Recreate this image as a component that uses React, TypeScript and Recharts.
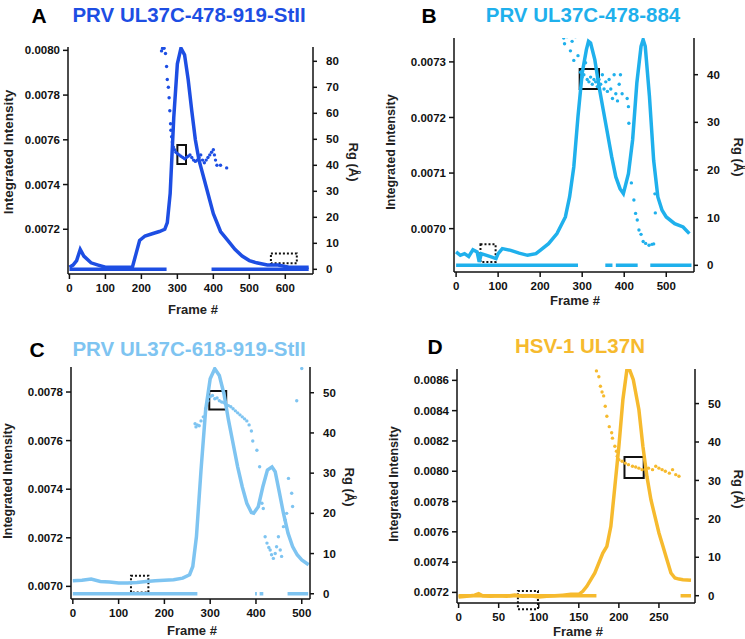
import React from "react";
import {
  ComposedChart,
  Line,
  Scatter,
  XAxis,
  YAxis,
  ReferenceArea,
} from "recharts";

// ---- panel A: PRV UL37C-478-919-StII
const A_FRAMES = [0, 10, 20, 30, 40, 60, 80, 100, 120, 150, 175, 185, 195, 210, 230, 250, 265, 272, 280, 290, 300, 310, 320, 330, 340, 350, 360, 375, 390, 400, 420, 440, 460, 480, 500, 520, 550, 580, 610, 640, 665];
const A_INTENSITY = [0.00703, 0.00704, 0.00706, 0.00711, 0.00708, 0.00705, 0.00704, 0.00703, 0.00703, 0.00703, 0.00703, 0.00709, 0.00715, 0.00717, 0.00718, 0.00719, 0.0072, 0.00723, 0.00736, 0.0077, 0.00794, 0.00801, 0.00798, 0.00787, 0.00773, 0.0076, 0.00751, 0.00742, 0.00733, 0.00727, 0.00719, 0.00715, 0.00711, 0.00708, 0.00706, 0.00705, 0.00704, 0.00704, 0.00703, 0.00703, 0.00703];
const A_RG_FRAMES = [256, 259, 263, 267, 270, 272, 275, 277, 279, 281, 282, 284, 286, 289, 292, 296, 300, 305, 310, 315, 320, 325, 330, 335, 340, 345, 350, 355, 360, 365, 370, 375, 380, 385, 390, 395, 400, 403, 406, 410, 420, 437];
const A_RG = [84, 85, 85, 83, 78, 73, 70, 66, 61, 56, 53.5, 51, 49, 47, 46, 45, 44.5, 44, 43.5, 43, 42.5, 43, 43.5, 44, 43, 42, 41.5, 42, 43, 44, 42, 41, 42, 43, 44, 45, 46, 44, 42, 40, 40, 39];
const A_ZERO_SPANS = [[0, 270], [395, 665]];
const A_X_TICKS = [0, 100, 200, 300, 400, 500, 600];
const A_L_TICKS = [0.0072, 0.0074, 0.0076, 0.0078, 0.008];
const A_R_TICKS = [0, 10, 20, 30, 40, 50, 60, 70, 80];

// ---- panel B: PRV UL37C-478-884
const B_FRAMES = [0, 10, 20, 30, 40, 50, 55, 60, 80, 95, 100, 110, 130, 150, 170, 190, 200, 220, 240, 260, 270, 280, 290, 300, 310, 315, 320, 330, 340, 350, 360, 370, 380, 390, 398, 410, 420, 430, 440, 445, 450, 460, 470, 480, 490, 500, 520, 540, 555];
const B_INTENSITY = [0.006958, 0.006952, 0.006955, 0.00695, 0.006962, 0.006958, 0.00694, 0.006955, 0.00695, 0.006946, 0.006955, 0.006964, 0.006961, 0.006956, 0.006952, 0.006955, 0.006961, 0.006973, 0.006991, 0.007021, 0.007057, 0.007111, 0.007202, 0.00728, 0.007322, 0.007337, 0.007334, 0.007304, 0.007256, 0.007214, 0.007172, 0.00713, 0.007093, 0.007072, 0.007063, 0.007099, 0.00716, 0.007262, 0.007328, 0.00734, 0.007328, 0.007238, 0.007123, 0.007057, 0.007033, 0.007021, 0.007009, 0.007003, 0.006991];
const B_RG_FRAMES = [256, 258, 264, 272, 276, 280, 284, 290, 296, 300, 304, 308, 312, 316, 320, 324, 328, 332, 336, 340, 344, 348, 352, 356, 360, 364, 368, 372, 376, 380, 384, 388, 391, 395, 407, 410, 411, 417, 423, 427, 431, 435, 440, 445, 451, 459, 466, 470, 473, 474];
const B_RG = [47.7, 46.5, 48, 45, 47, 43, 48, 44, 40.5, 39.5, 40, 42.5, 39, 38.5, 39.5, 38, 39, 38.5, 37.5, 39, 38, 40, 37, 38.5, 36.5, 39, 37, 35, 40, 36, 34.5, 38, 40, 36, 35, 33.3, 29.8, 17.3, 13.7, 10.9, 9.5, 7.4, 6.5, 5, 4.6, 4.2, 4.4, 4.5, 15, 11];
const B_ZERO_SPANS = [[0, 290], [355, 372], [380, 432], [462, 560]];
const B_X_TICKS = [0, 100, 200, 300, 400, 500];
const B_L_TICKS = [0.007, 0.0071, 0.0072, 0.0073];
const B_R_TICKS = [0, 10, 20, 30, 40];

// ---- panel C: PRV UL37C-618-919-StII
const C_FRAMES = [0, 20, 40, 60, 80, 100, 120, 140, 160, 180, 200, 220, 240, 255, 262, 270, 280, 290, 300, 310, 320, 330, 340, 350, 360, 370, 380, 390, 395, 405, 415, 425, 435, 442, 450, 460, 470, 480, 490, 500, 515];
const C_INTENSITY = [0.007023, 0.007025, 0.00703, 0.00702, 0.007018, 0.007014, 0.007014, 0.007016, 0.00702, 0.007023, 0.007025, 0.007027, 0.007034, 0.007048, 0.007082, 0.007205, 0.007479, 0.007725, 0.007855, 0.007896, 0.007868, 0.007793, 0.007684, 0.007588, 0.007492, 0.00741, 0.007342, 0.007304, 0.007301, 0.007328, 0.00741, 0.007479, 0.007492, 0.007472, 0.007397, 0.007301, 0.007219, 0.007164, 0.00713, 0.007109, 0.007089];
const C_RG_FRAMES = [267, 269, 272, 276, 280, 285, 290, 295, 300, 305, 310, 315, 320, 325, 330, 335, 340, 345, 350, 355, 360, 365, 370, 375, 380, 385, 390, 393, 402, 408, 413, 416, 420, 424, 428, 431, 434, 438, 442, 445, 449, 453, 456, 460, 464, 467, 471, 478, 480, 489, 500];
const C_RG = [42.3, 41.5, 42, 41.8, 43, 44, 46, 48, 49, 49.3, 48.5, 48.7, 48, 47.7, 47.5, 47, 46.8, 46.5, 46, 45.5, 45, 44.5, 44, 43.5, 43, 42, 40.5, 38, 35.7, 31.6, 22.5, 21.2, 14.2, 12.6, 11.5, 10.9, 9.7, 8.8, 10, 11.7, 14.2, 10.9, 9.3, 16.7, 18.3, 20, 28.7, 25, 21.7, 48, 56];
const C_ZERO_SPANS = [[0, 272], [398, 402], [408, 416], [469, 514]];
const C_X_TICKS = [0, 100, 200, 300, 400, 500];
const C_L_TICKS = [0.007, 0.0072, 0.0074, 0.0076, 0.0078];
const C_R_TICKS = [0, 10, 20, 30, 40, 50];

// ---- panel D: HSV-1 UL37N
const D_FRAMES = [0, 10, 20, 25, 30, 40, 50, 60, 70, 80, 90, 100, 110, 120, 130, 140, 150, 155, 160, 170, 180, 185, 190, 195, 200, 205, 210, 213, 218, 225, 230, 235, 240, 245, 250, 255, 260, 265, 270, 275, 280, 290];
const D_INTENSITY = [0.007169, 0.007174, 0.007182, 0.007191, 0.007178, 0.007174, 0.007178, 0.007174, 0.007182, 0.007174, 0.007178, 0.007169, 0.007174, 0.007178, 0.007182, 0.007187, 0.007187, 0.007207, 0.00724, 0.007328, 0.00746, 0.007504, 0.007636, 0.0079, 0.008164, 0.008472, 0.00867, 0.008675, 0.008604, 0.008406, 0.008164, 0.007966, 0.007812, 0.007702, 0.007592, 0.007504, 0.007416, 0.007328, 0.007295, 0.007288, 0.007284, 0.00728];
const D_RG_FRAMES = [172, 175, 177, 179, 181, 183, 185, 188, 191, 192, 195, 197, 198, 200, 204, 208, 212, 217, 221, 225, 229, 233, 237, 242, 246, 250, 254, 258, 263, 267, 271, 275];
const D_RG = [58.5, 57, 54.5, 53, 52, 49.3, 46.7, 44, 42.4, 41, 38.9, 37.6, 36.3, 35.4, 35, 34.5, 34.1, 33.7, 33.5, 33.2, 32.8, 33, 33.2, 32.8, 33.7, 33.2, 32.8, 32.4, 31.9, 32.8, 31.5, 31.1];
const D_ZERO_SPANS = [[0, 172], [277, 290]];
const D_X_TICKS = [0, 50, 100, 150, 200, 250];
const D_L_TICKS = [0.0072, 0.0074, 0.0076, 0.0078, 0.008, 0.0082, 0.0084, 0.0086];
const D_R_TICKS = [0, 10, 20, 30, 40, 50];

const FONT = '"Liberation Sans", Arial, Helvetica, sans-serif';
const tickStyle = { fontSize: 11.5, fontWeight: 700, fill: "#111", fontFamily: FONT };
const axisLine = { stroke: "#111", strokeWidth: 1.5 };

const zip = (fr: number[], vals: number[], key: string) =>
  fr.map((f, i) => ({ f, [key]: vals[i] }));

// Rg = 0 stretches (frames with no Guinier fit), null between to break the line
const spans = (s: number[][]) => {
  const out: any[] = [];
  s.forEach(([a, b], i) => {
    if (i > 0) out.push({ f: (s[i - 1][1] + a) / 2, rg: null });
    out.push({ f: a, rg: 0 });
    out.push({ f: b, rg: 0 });
  });
  return out;
};

type PanelProps = {
  left: number;
  top: number;
  width: number;
  height: number;
  plot: { l: number; r: number; t: number; b: number };
  color: string;
  frames: number[];
  intensity: number[];
  rgFrames: number[];
  rg: number[];
  zero: number[][];
  xDomain: [number, number];
  lDomain: [number, number];
  rDomain: [number, number];
  xTicks: number[];
  lTicks: number[];
  rTicks: number[];
  box: number[];
  dotBox: number[];
};

function Panel(p: PanelProps) {
  const line = zip(p.frames, p.intensity, "I");
  const pts = zip(p.rgFrames, p.rg, "rg");
  const dot = (props: any) => (
    <circle cx={props.cx} cy={props.cy} r={1.7} fill={p.color} />
  );
  return (
    <div style={{ position: "absolute", left: p.left, top: p.top }}>
      <ComposedChart
        width={p.width}
        height={p.height}
        margin={{ top: p.plot.t, right: 0, bottom: 0, left: 0 }}
      >
        <XAxis
          dataKey="f"
          type="number"
          domain={p.xDomain}
          ticks={p.xTicks}
          allowDataOverflow
          height={p.height - p.plot.b}
          tick={tickStyle}
          tickSize={5}
          tickMargin={5}
          axisLine={axisLine}
          tickLine={axisLine}
          interval={0}
        />
        <YAxis
          yAxisId="l"
          type="number"
          domain={p.lDomain}
          ticks={p.lTicks}
          allowDataOverflow
          width={p.plot.l}
          tick={tickStyle}
          tickSize={5}
          tickMargin={3}
          axisLine={axisLine}
          tickLine={axisLine}
          tickFormatter={(v: number) => v.toFixed(4)}
          interval={0}
        />
        <YAxis
          yAxisId="r"
          orientation="right"
          type="number"
          domain={p.rDomain}
          ticks={p.rTicks}
          allowDataOverflow
          width={p.width - p.plot.r}
          tick={tickStyle}
          tickSize={4}
          tickMargin={9}
          axisLine={axisLine}
          tickLine={axisLine}
          interval={0}
        />
        <Line
          yAxisId="r"
          data={spans(p.zero)}
          dataKey="rg"
          stroke={p.color}
          strokeWidth={3.5}
          dot={false}
          isAnimationActive={false}
        />
        <Line
          yAxisId="l"
          data={line}
          dataKey="I"
          type="linear"
          stroke={p.color}
          strokeWidth={3.5}
          dot={false}
          isAnimationActive={false}
        />
        <Scatter
          yAxisId="r"
          data={pts}
          dataKey="rg"
          fill={p.color}
          shape={dot}
          isAnimationActive={false}
        />
        <ReferenceArea
          yAxisId="r"
          x1={p.box[0]}
          x2={p.box[1]}
          y1={p.box[2]}
          y2={p.box[3]}
          stroke="#111"
          strokeWidth={2}
          fill="none"
          fillOpacity={0}
          ifOverflow="visible"
        />
        <ReferenceArea
          yAxisId="r"
          x1={p.dotBox[0]}
          x2={p.dotBox[1]}
          y1={p.dotBox[2]}
          y2={p.dotBox[3]}
          stroke="#111"
          strokeWidth={2}
          strokeDasharray="2 2"
          fill="none"
          fillOpacity={0}
          ifOverflow="visible"
        />
      </ComposedChart>
    </div>
  );
}

function Text(props: {
  x: number;
  y: number;
  size: number;
  color?: string;
  rot?: number;
  children: React.ReactNode;
}) {
  return (
    <div
      style={{
        position: "absolute",
        left: props.x,
        top: props.y,
        transform: `translate(-50%, -50%) rotate(${props.rot || 0}deg)`,
        fontSize: props.size,
        fontWeight: 700,
        color: props.color || "#222",
        whiteSpace: "nowrap",
        lineHeight: 1,
      }}
    >
      {props.children}
    </div>
  );
}

const BLUE = "#1d4ee3";
const SKY = "#1fb0ec";
const LIGHT = "#7ec4f1";
const GOLD = "#f6ba2e";

export default function App() {
  return (
    <div
      style={{
        position: "absolute",
        left: 0,
        top: 0,
        width: 745,
        height: 639,
        background: "#fff",
        fontFamily: FONT,
        overflow: "hidden",
      }}
    >
      <Panel
        left={0}
        top={0}
        width={372}
        height={320}
        plot={{ l: 68, r: 313, t: 47, b: 274 }}
        color={BLUE}
        frames={A_FRAMES}
        intensity={A_INTENSITY}
        rgFrames={A_RG_FRAMES}
        rg={A_RG}
        zero={A_ZERO_SPANS}
        xDomain={[-4, 677]}
        lDomain={[0.007, 0.008015]}
        rDomain={[-1.8, 85.5]}
        xTicks={A_X_TICKS}
        lTicks={A_L_TICKS}
        rTicks={A_R_TICKS}
        box={[300, 324, 40.5, 47.8]}
        dotBox={[560, 632, 2.3, 6.1]}
      />
      <Panel
        left={372}
        top={0}
        width={373}
        height={320}
        plot={{ l: 82, r: 322, t: 38, b: 272 }}
        color={SKY}
        frames={B_FRAMES}
        intensity={B_INTENSITY}
        rgFrames={B_RG_FRAMES}
        rg={B_RG}
        zero={B_ZERO_SPANS}
        xDomain={[-5, 566]}
        lDomain={[0.006922, 0.007343]}
        rDomain={[-1.4, 47.7]}
        xTicks={B_X_TICKS}
        lTicks={B_L_TICKS}
        rTicks={B_R_TICKS}
        box={[294, 340, 37, 41.2]}
        dotBox={[58, 94, 0.7, 4.4]}
      />
      <Panel
        left={0}
        top={320}
        width={372}
        height={319}
        plot={{ l: 71, r: 310, t: 47, b: 279 }}
        color={LIGHT}
        frames={C_FRAMES}
        intensity={C_INTENSITY}
        rgFrames={C_RG_FRAMES}
        rg={C_RG}
        zero={C_ZERO_SPANS}
        xDomain={[-4, 518]}
        lDomain={[0.006948, 0.007903]}
        rDomain={[-1.3, 56.4]}
        xTicks={C_X_TICKS}
        lTicks={C_L_TICKS}
        rTicks={C_R_TICKS}
        box={[298, 335, 45.8, 50.4]}
        dotBox={[127, 165, 0.3, 4.5]}
      />
      <Panel
        left={372}
        top={320}
        width={373}
        height={319}
        plot={{ l: 85, r: 323, t: 49, b: 283 }}
        color={GOLD}
        frames={D_FRAMES}
        intensity={D_INTENSITY}
        rgFrames={D_RG_FRAMES}
        rg={D_RG}
        zero={D_ZERO_SPANS}
        xDomain={[-2, 295]}
        lDomain={[0.00713, 0.008675]}
        rDomain={[-1.9, 59]}
        xTicks={D_X_TICKS}
        lTicks={D_L_TICKS}
        rTicks={D_R_TICKS}
        box={[207, 231, 30.6, 36.1]}
        dotBox={[74, 99, -3.5, 1.2]}
      />

      <Text x={39} y={15} size={21} color="#000">A</Text>
      <Text x={189} y={15} size={20.5} color={BLUE}>PRV UL37C-478-919-StII</Text>
      <Text x={429} y={15} size={21} color="#000">B</Text>
      <Text x={583} y={15} size={20.5} color={SKY}>PRV UL37C-478-884</Text>
      <Text x={37} y={349} size={21} color="#000">C</Text>
      <Text x={189} y={349} size={20.5} color={LIGHT}>PRV UL37C-618-919-StII</Text>
      <Text x={435} y={346} size={21} color="#000">D</Text>
      <Text x={580} y={346} size={20.5} color={GOLD}>HSV-1 UL37N</Text>

      <Text x={9} y={152} size={13.5} rot={-90}>Integrated Intensity</Text>
      <Text x={391} y={152} size={12.5} rot={-90}>Integrated Intensity</Text>
      <Text x={8} y={481} size={12.5} rot={-90}>Integrated Intensity</Text>
      <Text x={394} y={484} size={12.5} rot={-90}>Integrated Intensity</Text>

      <Text x={353} y={162} size={13} rot={90}>Rg (Å)</Text>
      <Text x={738} y={157} size={13} rot={90}>Rg (Å)</Text>
      <Text x={349} y={487} size={13} rot={90}>Rg (Å)</Text>
      <Text x={738} y={489} size={13} rot={90}>Rg (Å)</Text>

      <Text x={193} y={309} size={13}>Frame #</Text>
      <Text x={575} y={300} size={13}>Frame #</Text>
      <Text x={192} y={630} size={13}>Frame #</Text>
      <Text x={578} y={631} size={13}>Frame #</Text>
    </div>
  );
}
